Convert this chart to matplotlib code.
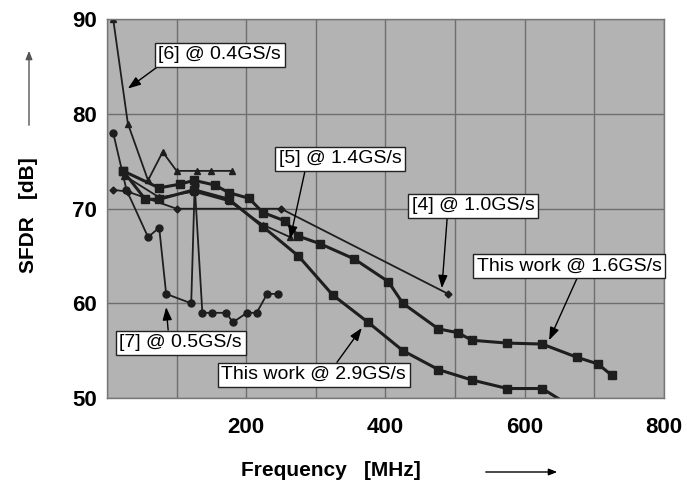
"""
SFDR versus input frequency, comparison with published converters
"""

import matplotlib
matplotlib.use('Agg')
import matplotlib.pyplot as plt

plt.rcParams['font.family'] = ['Liberation Sans', 'DejaVu Sans']

# ---- data (frequency in MHz, SFDR in dB) ----
f_ref6 = [9, 30, 59, 80, 100, 130, 150, 180]
sfdr_ref6 = [90, 79, 73, 76, 74, 74, 74, 74]

f_ref7 = [9, 28, 59, 75, 85, 121, 126, 137, 151, 171, 181, 201, 215, 230, 245]
sfdr_ref7 = [78, 72, 67, 68, 61, 60, 72.5, 59, 59, 59, 58, 59, 59, 61, 61]

f_ref4 = [9, 30, 100, 250, 490]
sfdr_ref4 = [72, 71.8, 70, 70, 61]

f_ref5 = [25, 75, 125, 175, 224, 263]
sfdr_ref5 = [73.5, 71.2, 71.8, 70.8, 68.3, 67]

f_work16 = [23, 75, 105, 125, 155, 175, 204, 224, 256, 275, 306, 355, 404,
            425, 476, 504, 524, 575, 625, 675, 705, 725]
sfdr_work16 = [74, 72.2, 72.6, 73, 72.5, 71.7, 71.1, 69.6, 68.7, 67.1, 66.3,
               64.7, 62.3, 60, 57.3, 56.9, 56.1, 55.8, 55.7, 54.3, 53.6, 52.4]

f_work29 = [23, 55, 75, 125, 175, 224, 275, 324, 375, 425, 476, 524, 575,
            625, 680]
sfdr_work29 = [74, 71, 71, 72, 71, 68.1, 65, 60.9, 58, 55, 53, 51.9, 51, 51,
               48.5]

# annotation labels: (text, arrow tip, box centre, where the arrow leaves the box)
labels = [
    ('[6] @ 0.4GS/s', (30, 82.7), (162, 86.25), (0.03, 0)),
    ('[7] @ 0.5GS/s', (85, 59.6), (106, 55.85), (0.4, 1)),
    ('[5] @ 1.4GS/s', (263, 66.8), (335, 75.3), (0.22, 0)),
    ('[4] @ 1.0GS/s', (481, 61.6), (526, 70.3), (0.29, 0)),
    ('This work @ 1.6GS/s', (635, 56.1), (664, 63.9), (0.55, 0)),
    ('This work @ 2.9GS/s', (366, 57.4), (297, 52.45), (0.61, 1)),
]

ink = '#1e1e1e'

fig = plt.figure(figsize=(6.87, 4.87), dpi=100)
ax = fig.add_axes([0.1557, 0.1828, 0.8108, 0.7772])
ax.set_facecolor('#b3b3b3')

# the curves
ax.plot(f_ref6, sfdr_ref6, color=ink, lw=1.3, marker='^', ms=5)
ax.plot(f_ref7, sfdr_ref7, color=ink, lw=1.3, marker='o', ms=5)
ax.plot(f_ref4, sfdr_ref4, color=ink, lw=1.3, marker='D', ms=3.5)
ax.plot(f_ref5, sfdr_ref5, color=ink, lw=1.3, marker='^', ms=5)
ax.plot(f_work29, sfdr_work29, color=ink, lw=2.2, marker='s', ms=6)
ax.plot(f_work16, sfdr_work16, color=ink, lw=2.2, marker='s', ms=6)

# boxed labels with arrows
for txt, tip, box, rel in labels:
    ax.annotate(txt, xy=tip, xytext=box, ha='center', va='center',
                fontsize=14, color='black',
                bbox=dict(boxstyle='square,pad=0.18', fc='white', ec='#222222', lw=1),
                arrowprops=dict(arrowstyle='-|>,head_length=0.55,head_width=0.2',
                                color='black', lw=1, shrinkA=0, shrinkB=0,
                                relpos=rel))

# axes look
ax.set_xlim(0, 800)
ax.set_ylim(50, 90)
ax.set_xticks(range(0, 801, 100), minor=True)
ax.set_xticks([200, 400, 600, 800])
ax.set_yticks([50, 60, 70, 80, 90])
ax.grid(True, which='both', color='#6e6e6e', lw=1)
ax.set_axisbelow(True)
ax.tick_params(length=0, labelsize=16, pad=7)
ax.tick_params(axis='x', pad=14)
ax.tick_params(axis='x', which='minor', length=0)
for lab in ax.get_xticklabels() + ax.get_yticklabels():
    lab.set_fontweight('bold')
for sp in ax.spines.values():
    sp.set_color('#777777')
    sp.set_linewidth(1)

# axis titles with their arrows, placed in figure pixels
fig.text(28, 272, 'SFDR   [dB]', transform=None, rotation=90, ha='center',
         va='center', fontsize=15, fontweight='bold')
fig.text(331, 17, 'Frequency   [MHz]', transform=None, ha='center',
         va='center', fontsize=15, fontweight='bold')
ax.annotate('', xy=(29, 439), xytext=(29, 359), xycoords='figure pixels',
            textcoords='figure pixels',
            arrowprops=dict(arrowstyle='-|>,head_length=0.5,head_width=0.2',
                            color='#555555', lw=1))
ax.annotate('', xy=(560, 15), xytext=(483, 15), xycoords='figure pixels',
            textcoords='figure pixels',
            arrowprops=dict(arrowstyle='-|>,head_length=0.5,head_width=0.2',
                            color='black', lw=1))

fig.savefig('out.png', dpi=100)
